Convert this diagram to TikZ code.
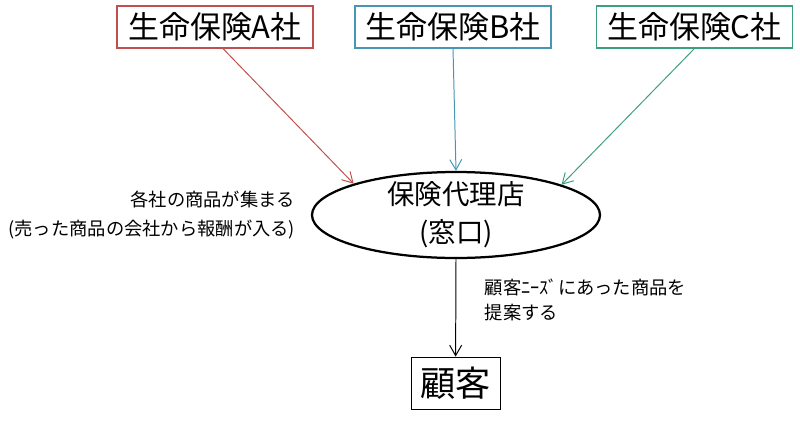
\documentclass[tikz,border=0pt]{standalone}
\usepackage{fontspec}
\setmainfont{Noto Sans CJK JP}
\usetikzlibrary{shapes.geometric,arrows.meta}
\definecolor{compA}{RGB}{192,80,77}
\definecolor{compB}{RGB}{70,150,180}
\definecolor{compC}{RGB}{60,160,125}
\begin{document}
\begin{tikzpicture}[
>={Straight Barb[length=2.6mm,width=3mm]},
company/.style={draw, rectangle, line width=0.8pt, minimum width=4.9cm, minimum height=1.05cm, font=\fontsize{22}{26}\selectfont},
agency/.style={draw, ellipse, line width=1.6pt, minimum width=7.2cm, minimum height=2.15cm, inner sep=0pt},
note/.style={font=\fontsize{13}{20.5}\selectfont}
]
\useasboundingbox (0,0) rectangle (20,-10.65);
\node[company, draw=compA] (A) at (5.375,-0.675) {生命保険A社};
\node[company, draw=compB] (B) at (11.325,-0.675) {生命保険B社};
\node[company, draw=compC] (C) at (17.36,-0.675) {生命保険C社};

\node[agency, label={[align=center, font=\fontsize{19.5}{27}\selectfont]center:保険代理店\\(窓口)}] (shop) at (11.4,-5.375) {};
\node[draw, rectangle, line width=0.6pt, minimum width=2.225cm, minimum height=1.3cm, font=\fontsize{25}{28}\selectfont] (cust) at (11.39,-9.575) {顧客};

\draw[->, compA, line width=0.7pt] ([xshift=0.2cm]A.south) -- (shop.163.8);
\draw[->, compB, line width=0.7pt] (B.south) -- (shop.north);
\draw[->, compC, line width=0.7pt] (C.south) -- (shop.16.7);
\draw[->, line width=0.7pt] (shop.south) -- (cust.north);

\node[note, align=right, anchor=east] (gather) at (7.5,-5.375) {各社の商品が集まる\\(売った商品の会社から報酬が入る)};
\node[note, align=left, anchor=west, font=\fontsize{13}{17.5}\selectfont] (offer) at (12.0,-7.5) {顧客ﾆｰｽﾞにあった商品を\\提案する};
\end{tikzpicture}
\end{document}
